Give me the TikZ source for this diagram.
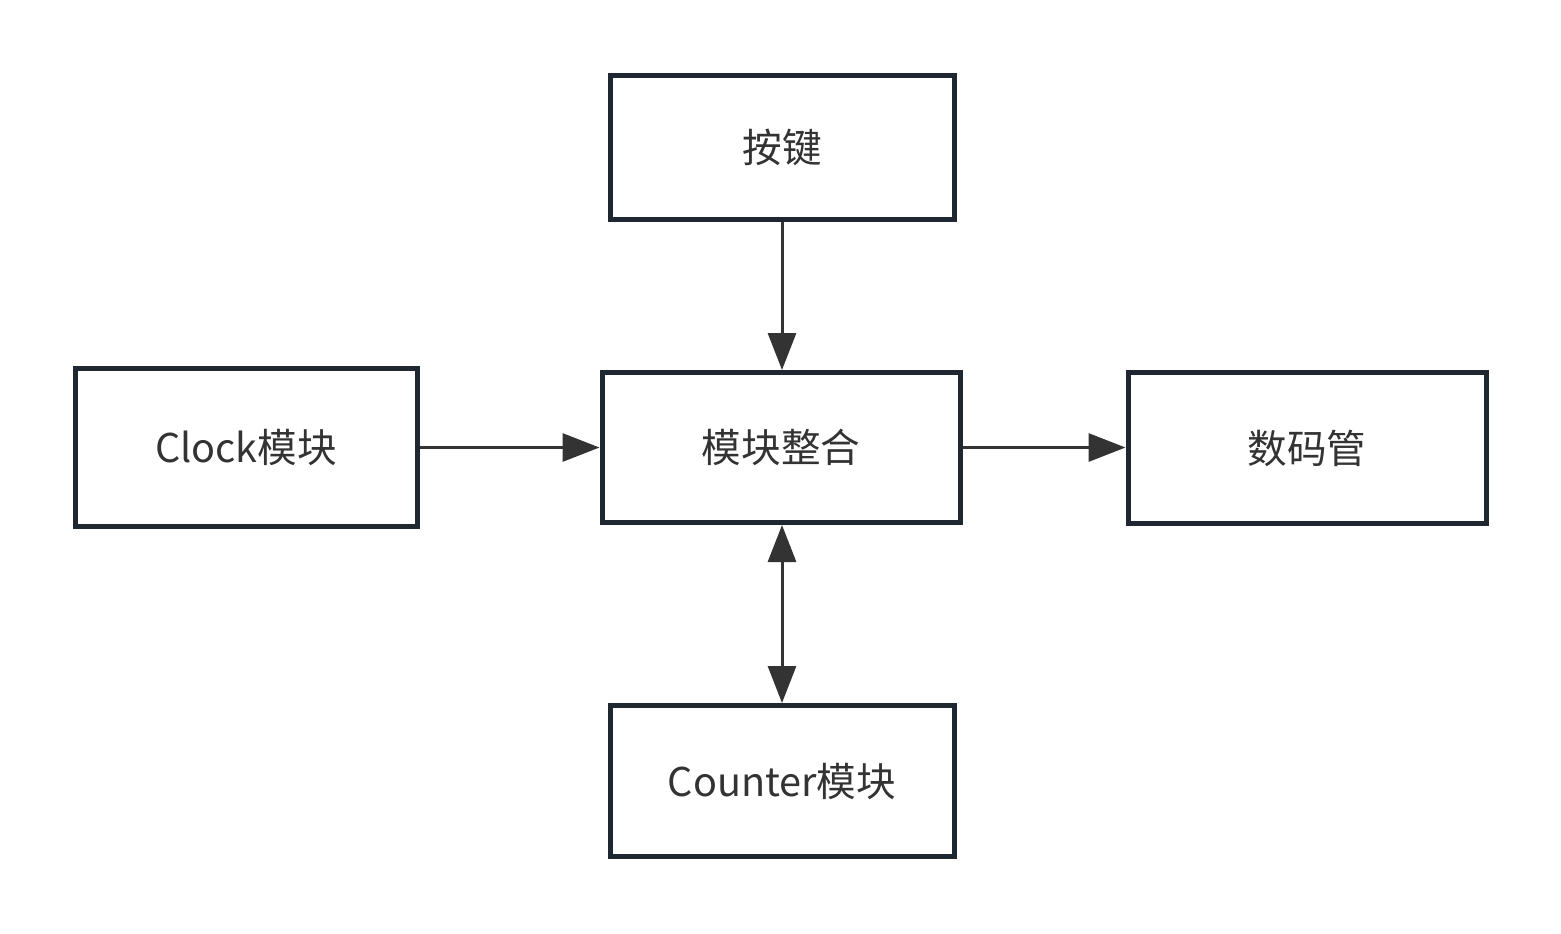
\documentclass[tikz,border=0pt]{standalone}
\usepackage{fontspec}
\setmainfont{Noto Sans CJK SC}
\usetikzlibrary{arrows.meta}
\definecolor{boxline}{HTML}{1F2830}
\definecolor{arr}{HTML}{333333}
\begin{document}
\begin{tikzpicture}[x=0.5pt,y=-0.5pt,
  blk/.style={draw=boxline,line width=2.5pt,rectangle,inner sep=0pt,
    text=arr,font=\fontsize{19.8}{23}\selectfont},
  conn/.style={draw=arr,line width=1.5pt,-{Triangle[length=18.5pt,width=14pt]}},
  bconn/.style={draw=arr,line width=1.5pt,{Triangle[length=18.5pt,width=14pt]}-{Triangle[length=18.5pt,width=14pt]}}]
\useasboundingbox[fill=white] (0,0) rectangle (1561,933);
\node[blk,minimum width=172pt,minimum height=72pt] (key) at (782,147.5) {\raisebox{-2.5pt}{按键}};
\node[blk,minimum width=171pt,minimum height=79pt] (clk) at (246,447.5) {\raisebox{-2.5pt}{Clock模块}};
\node[blk,minimum width=179pt,minimum height=75pt] (top) at (781,447.5) {\raisebox{-2.5pt}{模块整合}};
\node[blk,minimum width=179pt,minimum height=75.5pt] (seg) at (1307,448) {\raisebox{-2.5pt}{数码管}};
\node[blk,minimum width=172pt,minimum height=75.5pt] (cnt) at (782,781) {\raisebox{-2.5pt}{Counter模块}};
\draw[conn] (key.south) -- (key.south |- top.north);
\draw[conn] (clk.east |- top.west) -- (top.west);
\draw[conn] (top.east) -- (seg.west |- top.east);
\draw[bconn] (top.south -| cnt.north) -- (cnt.north);
\end{tikzpicture}
\end{document}
